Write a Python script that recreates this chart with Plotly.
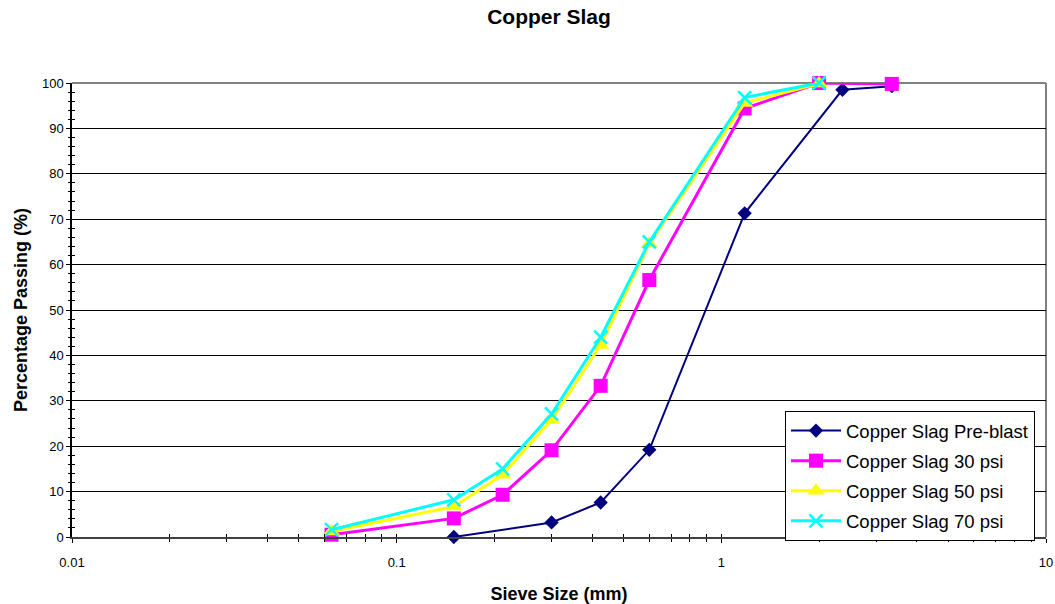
import plotly.graph_objects as go

# Sieve sizes (mm) for each gradation series
sizes_pre = [0.15, 0.3, 0.425, 0.6, 1.18, 2.36, 3.35]
sizes_30 = [0.063, 0.15, 0.212, 0.3, 0.425, 0.6, 1.18, 2.0, 3.35]
sizes_50 = [0.063, 0.15, 0.212, 0.3, 0.425, 0.6, 1.18, 2.0]
sizes_70 = [0.063, 0.15, 0.212, 0.3, 0.425, 0.6, 1.18, 2.0]

# Cumulative percentage passing
pass_pre = [0.0, 3.2, 7.6, 19.2, 71.3, 98.5, 99.3]
pass_30 = [0.5, 4.1, 9.3, 19.1, 33.3, 56.6, 94.4, 100.0, 99.8]
pass_50 = [1.2, 6.7, 13.7, 25.8, 42.3, 64.6, 95.6, 99.9]
pass_70 = [1.6, 8.2, 15.0, 27.1, 44.0, 65.0, 96.8, 100.0]

series_names = ["Copper Slag Pre-blast", "Copper Slag 30 psi",
                "Copper Slag 50 psi", "Copper Slag 70 psi"]

x_tickvals = [0.01, 0.1, 1, 10]
x_ticktext = ["0.01", "0.1", "1", "10"]
x_minor = [m * d for d in (0.01, 0.1, 1) for m in range(2, 10)]
y_tickvals = list(range(0, 101, 10))
y_minor = [v for v in range(0, 101, 2) if v % 10]

FONT = "Liberation Sans, Arial, sans-serif"

styles = [
    dict(color="#000080", width=2, symbol="diamond", size=11, mline=0),
    dict(color="#FF00FF", width=3, symbol="square", size=14, mline=0),
    dict(color="#FFFF00", width=3, symbol="triangle-up", size=15, mline=0),
    dict(color="#00FFFF", width=3, symbol="x-thin-open", size=13, mline=2.5),
]
xs = [sizes_pre, sizes_30, sizes_50, sizes_70]
ys = [pass_pre, pass_30, pass_50, pass_70]

fig = go.Figure()
for i, (name, x, y, st) in enumerate(zip(series_names, xs, ys, styles)):
    fig.add_trace(go.Scatter(
        x=x, y=y, name=name, mode="lines+markers",
        legendgroup=f"g{i}",
        line=dict(color=st["color"], width=st["width"]),
        marker=dict(symbol=st["symbol"], size=st["size"], color=st["color"],
                    line=dict(color=st["color"], width=st["mline"])),
        cliponaxis=False,
    ))

# overlay axes carry the inward half of the crossing tick marks
fig.add_trace(go.Scatter(x=[], y=[], xaxis="x2", yaxis="y2",
                         showlegend=False, hoverinfo="skip"))

fig.update_layout(
    width=1055, height=604,
    margin=dict(l=72, r=9, t=83, b=67, autoexpand=False),
    paper_bgcolor="white", plot_bgcolor="white",
    font=dict(family=FONT, size=13, color="black"),
    title=dict(text="<b>Copper Slag</b>", font=dict(size=21, family=FONT),
               x=(549 - 72) / 974, xref="paper", xanchor="center",
               y=1 - 17 / 604, yanchor="middle"),
    showlegend=True,
    legend=dict(
        x=(785 - 72) / 974, xanchor="left", y=-0.009, yanchor="bottom",
        bgcolor="white", bordercolor="black", borderwidth=1,
        font=dict(size=18.5, family=FONT), itemwidth=50,
        tracegroupgap=3, traceorder="grouped",
    ),
    xaxis=dict(
        type="log", range=[-2, 1], automargin=False,
        tickmode="array", tickvals=x_tickvals, ticktext=x_ticktext,
        ticks="outside", ticklen=4, tickwidth=1, tickcolor="black",
        minor=dict(tickmode="array", tickvals=x_minor, ticks="outside",
                   ticklen=3, tickwidth=1, tickcolor="black", showgrid=False),
        showgrid=False, zeroline=False,
        showline=True, linecolor="#404040", linewidth=2,
        ticklabelstandoff=8,
        title=dict(text="<b>Sieve Size (mm)</b>", font=dict(size=18, family=FONT),
                   standoff=20),
    ),
    yaxis=dict(
        range=[0, 100], automargin=False,
        tickmode="array", tickvals=y_tickvals,
        ticks="outside", ticklen=4, tickwidth=1, tickcolor="black",
        minor=dict(tickmode="array", tickvals=y_minor, ticks="outside",
                   ticklen=2, tickwidth=1, tickcolor="black", showgrid=False),
        showgrid=True, gridcolor="black", gridwidth=1, zeroline=False,
        showline=True, linecolor="black", linewidth=1.5,
        title=dict(text="<b>Percentage Passing (%)</b>",
                   font=dict(size=18, family=FONT), standoff=10),
    ),
    xaxis2=dict(
        type="log", range=[-2, 1], overlaying="x", anchor="y", side="bottom",
        automargin=False,
        tickmode="array", tickvals=x_tickvals, ticks="inside", ticklen=3,
        tickcolor="black",
        minor=dict(tickmode="array", tickvals=x_minor, ticks="inside",
                   ticklen=3, tickcolor="black", showgrid=False),
        showticklabels=False, showgrid=False, zeroline=False, showline=False,
    ),
    yaxis2=dict(
        range=[0, 100], overlaying="y", anchor="x", side="left",
        automargin=False,
        tickmode="array", tickvals=y_tickvals, ticks="inside", ticklen=3,
        tickcolor="black",
        minor=dict(tickmode="array", tickvals=y_minor, ticks="inside",
                   ticklen=3, tickcolor="black", showgrid=False),
        showticklabels=False, showgrid=False, zeroline=False, showline=False,
    ),
    shapes=[
        dict(type="line", xref="paper", yref="paper", x0=0, x1=1, y0=1, y1=1,
             line=dict(color="#808080", width=2), layer="below"),
        dict(type="line", xref="paper", yref="paper", x0=1, x1=1, y0=0, y1=1,
             line=dict(color="#808080", width=2), layer="below"),
    ],
)

fig.write_html("out.html")
